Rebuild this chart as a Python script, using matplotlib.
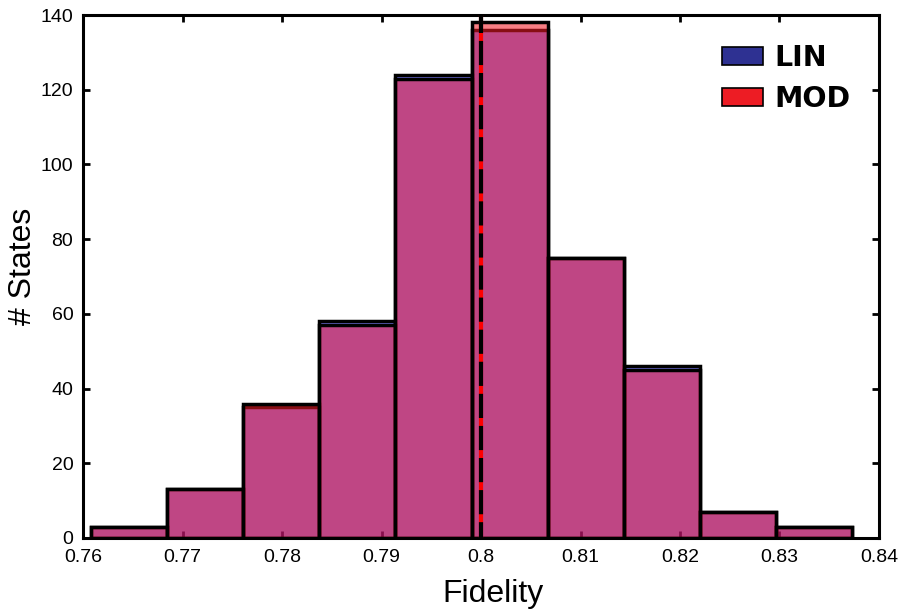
import numpy as np
import matplotlib
matplotlib.use('Agg')
import matplotlib.pyplot as plt
from matplotlib.patches import Patch

# histogram bins (fidelity) and counts per bin for the two methods
bin_edges = [0.7608, 0.76845, 0.7761, 0.78375, 0.7914, 0.79905,
             0.8067, 0.81435, 0.822, 0.82965, 0.8373]
lin_counts = [3, 13, 35, 58, 124, 136, 75, 46, 7, 3]
mod_counts = [3, 13, 36, 57, 123, 138, 75, 45, 7, 3]
lin_mean = 0.8
mod_mean = 0.8

x_ticks = [0.76, 0.77, 0.78, 0.79, 0.8, 0.81, 0.82, 0.83, 0.84]
x_ticklabels = ['0.76', '0.77', '0.78', '0.79', '0.8', '0.81', '0.82', '0.83', '0.84']
y_ticks = [0, 20, 40, 60, 80, 100, 120, 140]

fig = plt.figure(figsize=(9.01, 6.10), dpi=100)
ax = fig.add_axes([83 / 901, 72 / 610, 796 / 901, 523 / 610])

edges = np.array(bin_edges)
widths = np.diff(edges)

ax.bar(edges[:-1], lin_counts, width=widths, align='edge',
       facecolor=(0.0, 0.0, 1.0, 0.5), edgecolor='black', linewidth=2.5, zorder=2)
ax.bar(edges[:-1], mod_counts, width=widths, align='edge',
       facecolor=(0.95, 0.1, 0.14, 0.56), edgecolor='black', linewidth=2.5, zorder=3)

# mean fidelity markers
ax.axvline(mod_mean, color='red', linewidth=3, zorder=4)
ax.axvline(lin_mean, color='black', linewidth=3, linestyle=(2, (5.8, 1.9)), zorder=5)

ax.set_xlim(0.76, 0.84)
ax.set_ylim(0, 140)
ax.set_xticks(x_ticks)
ax.set_xticklabels(x_ticklabels, fontfamily='Liberation Sans', fontsize=14)
ax.set_yticks(y_ticks)
ax.set_yticklabels([str(v) for v in y_ticks], fontfamily='Liberation Sans', fontsize=14)
ax.tick_params(direction='in', length=5, width=2, top=True, right=True)
ax.tick_params(axis='x', pad=8)
ax.tick_params(axis='y', pad=7)
for side in ax.spines.values():
    side.set_linewidth(2.2)

ax.set_xlabel('Fidelity', fontfamily='Liberation Sans', fontsize=23)
ax.set_ylabel('# States', fontfamily='Liberation Sans', fontsize=23)
ax.xaxis.set_label_coords(0.515, -0.078)
ax.yaxis.set_label_coords(-0.057, 0.52)

handles = [Patch(facecolor='#2E3192', edgecolor='black', linewidth=1.2, label='LIN'),
           Patch(facecolor='#ED1C24', edgecolor='black', linewidth=1.2, label='MOD')]
ax.legend(handles=handles, loc='upper left', bbox_to_anchor=(0.803, 0.945),
          frameon=False, prop={'family': 'DejaVu Sans', 'weight': 'bold', 'size': 20.5},
          handlelength=1.45, handleheight=0.6, handletextpad=0.4,
          labelspacing=0.45, borderpad=0, borderaxespad=0)

fig.savefig('out.png', dpi=100)
